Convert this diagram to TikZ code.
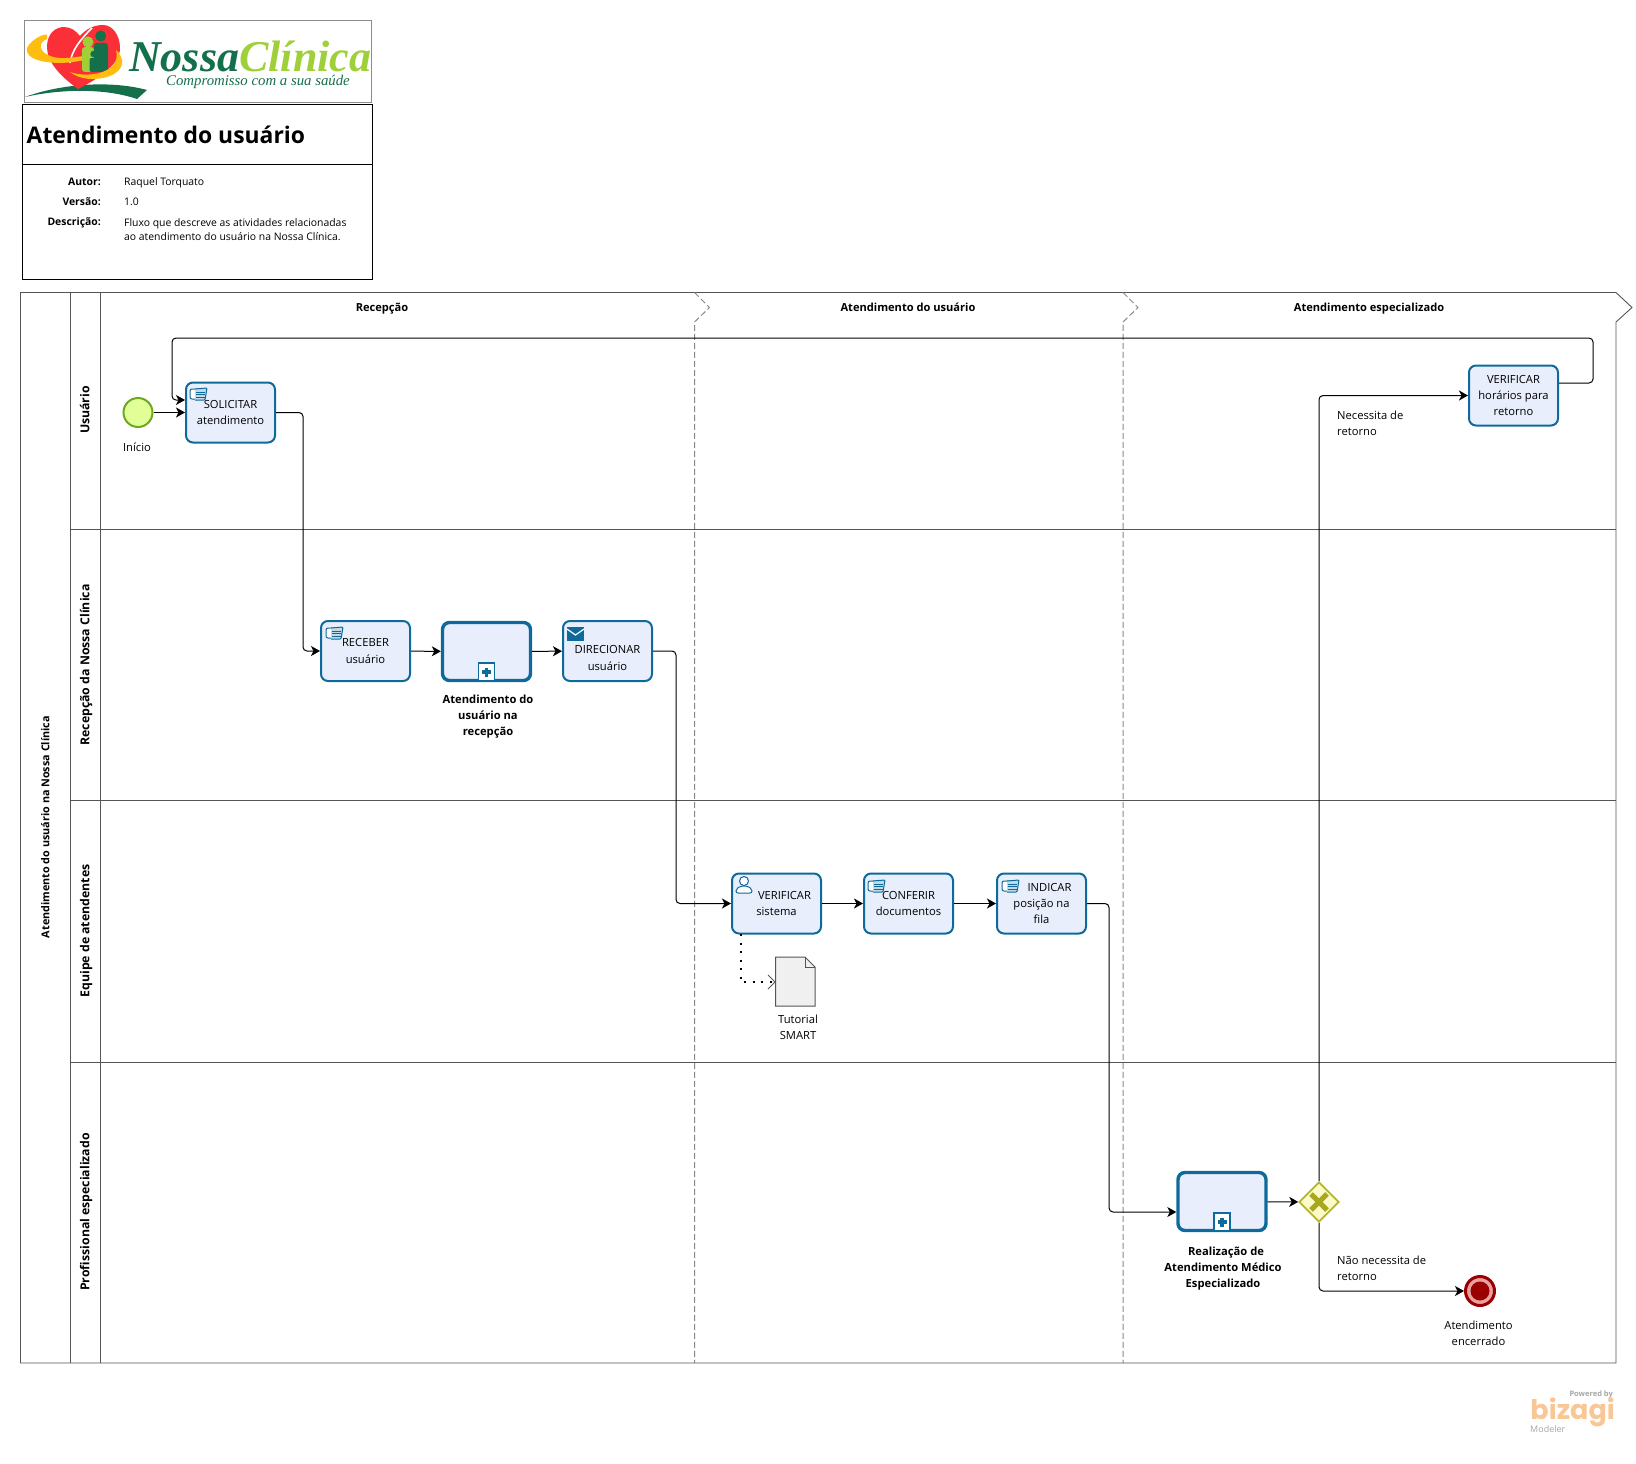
\documentclass[tikz,border=0pt]{standalone}
\usepackage{fontspec}
\setmainfont{Open Sans}
\newfontfamily\logofont{Liberation Serif}
\newfontfamily\bizfont{Poppins}
\usetikzlibrary{arrows.meta,shapes.geometric}

\definecolor{taskblue}{HTML}{0F6A9C}
\definecolor{taskfill}{HTML}{E9EEFC}
\definecolor{laneline}{HTML}{555555}
\definecolor{logogreen}{HTML}{14704A}
\definecolor{logolime}{HTML}{9FD03A}
\definecolor{logogold}{HTML}{FFBE0F}
\definecolor{logored}{HTML}{FA2F38}
\definecolor{startline}{HTML}{6FA81E}
\definecolor{startfill}{HTML}{E1FF96}
\definecolor{gateline}{HTML}{B4B42D}
\definecolor{gatefill}{HTML}{FBFBC8}
\definecolor{gatecross}{HTML}{A8A820}
\definecolor{endline}{HTML}{9B0000}
\definecolor{endfill}{HTML}{E8A0A0}
\definecolor{bizorange}{HTML}{F9C795}

\newcommand{\bodyfont}{\fontsize{11.2}{16.2}\selectfont}

\tikzstyle{lane} = [laneline,line width=0.9pt]
\tikzstyle{phase} = [laneline!70,line width=1pt,dashed,dash pattern=on 6pt off 3pt]
\tikzstyle{flow} = [black,line width=1pt,rounded corners=4pt,-{Stealth[length=9pt,width=10pt,inset=2.5pt]}]
\tikzstyle{assoc} = [black,line width=1.6pt,dash pattern=on 2pt off 6.5pt]
\tikzstyle{task} = [draw=taskblue,fill=taskfill,line width=2pt,rounded corners=7pt,minimum width=89pt,minimum height=60pt,inner sep=0pt,align=center,font=\bodyfont]
\tikzstyle{subtask} = [task,line width=3.4pt,minimum width=88pt,minimum height=58pt]
\tikzstyle{caption} = [align=center,inner sep=0pt,font=\bodyfont]
\tikzstyle{boldcaption} = [caption,font=\bodyfont\bfseries]
\tikzstyle{header} = [inner sep=0pt,text height=8.6pt,text depth=0pt,font=\fontsize{11.1}{14}\selectfont\bfseries]
\tikzstyle{lanehead} = [header,rotate=90,font=\fontsize{12.3}{14}\selectfont\bfseries]
\tikzstyle{meta} = [inner sep=0pt,text height=8pt,text depth=0pt,font=\fontsize{10.4}{14}\selectfont]
\tikzstyle{metakey} = [meta,anchor=east,font=\fontsize{10.4}{14}\selectfont\bfseries]

\tikzset{
  handicon/.pic={
    \draw [taskblue,fill=white,line width=1pt,rounded corners=2pt] (0,1) rectangle (14,11);
    \draw [taskblue,fill=taskblue!25,line width=1pt,rounded corners=1pt] (5,1) -- (17,0) -- (15,12) -- (5,12);
    \foreach \liney in {4,6.5,9} \draw [taskblue,line width=1pt] (6,\liney) -- (15,\liney);
  },
  usericon/.pic={
    \draw [taskblue,line width=1pt,rounded corners=2pt,fill=white] (-8,12) -- (-8,8) -- (-3,5) -- (3,5) -- (8,8) -- (8,12) -- cycle;
    \draw [taskblue,line width=1pt,fill=white] (0,0) circle (4.5);
  },
  mailicon/.pic={
    \fill [taskblue] (0,0) rectangle (17,14);
    \draw [white,line width=1.2pt] (0,2) -- (8.5,8) -- (17,2);
  },
  plusicon/.pic={
    \draw [taskblue,fill=white,line width=1.8pt] (-8,-9) rectangle (8,9);
    \draw [taskblue,line width=3.4pt] (-4.5,0) -- (4.5,0) (0,-4.5) -- (0,4.5);
  }
}

\begin{document}
\begin{tikzpicture}[x=1pt,y=-1pt]
\useasboundingbox (0,0) rectangle (1636,1464);

% Logo
\draw [black!45,line width=0.8pt] (24.3,20.5) rectangle (371.5,102.5);
\fill [logogreen] (25,97) .. controls (60,84) and (110,80) .. (147,90) -- (137,99) .. controls (105,88) and (60,89) .. (25,97);
\fill [logored] (78,89) .. controls (60,76) and (47,62) .. (47,47) .. controls (47,33) and (56,27) .. (64,27) .. controls (71,27) and (76,31) .. (80,36) .. controls (86,29) and (94,25) .. (103,25) .. controls (113,25) and (120,36) .. (120,48) .. controls (120,64) and (100,78) .. (78,89);
\draw [white,line width=1.6pt] (92,28) .. controls (80,40) and (72,50) .. (70,63);
\fill [logogold] (27,48) .. controls (32,38) and (46,33) .. (47,35) -- (47,39) .. controls (39,42) and (38,50) .. (48,55) .. controls (58,60) and (70,58) .. (84,56) -- (84,60) .. controls (60,66) and (24,63) .. (27,48);
\fill [logolime,rounded corners=3pt] (82,47) rectangle (94,72);
\fill [logolime] (88,42) circle (5.5);
\fill [logogreen,rounded corners=3pt] (94,43) rectangle (108,72);
\fill [logogreen] (100.7,36) circle (5.5);
\fill [logogreen,rounded corners=2pt] (89.5,58) rectangle (97.5,72);
\fill [logogreen] (93.5,54) circle (3.2);
\fill [logogold] (70,72) .. controls (90,79) and (122,72) .. (116,50) .. controls (125,58) and (125,70) .. (110,76) .. controls (96,81) and (80,80) .. (70,72);
\node (logotext) [anchor=base west,inner sep=0pt] at (129,71.5) {\logofont\fontsize{44}{44}\selectfont\bfseries\itshape\textcolor{logogreen}{Nossa}\textcolor{logolime}{Clínica}};
\node (logotag) [anchor=base west,inner sep=0pt,text=logogreen] at (166,85.5) {\logofont\fontsize{14.8}{17}\selectfont\itshape Compromisso com a sua saúde};

% Title block
\draw [black,line width=1pt] (22.5,104.5) rectangle (372.5,279.5);
\draw [black,line width=1pt] (22.5,164.5) -- (372.5,164.5);
\node (title) [anchor=west,inner sep=0pt,font=\fontsize{22.9}{26}\selectfont\bfseries] at (26.5,135) {Atendimento do usuário};
\node (autorkey) [metakey] at (101,181) {Autor:};
\node (versaokey) [metakey] at (101,201) {Versão:};
\node (descrkey) [metakey] at (101,221) {Descrição:};
\node (autorval) [meta,anchor=west] at (124,181) {Raquel Torquato};
\node (versaoval) [meta,anchor=west] at (124,201) {1.0};
\node (descrval) [inner sep=0pt,font=\fontsize{10.4}{14}\selectfont,anchor=north west,align=left] at (124,218) {Fluxo que descreve as atividades relacionadas\\ao atendimento do usuário na Nossa Clínica.};

% Pool and lanes
\draw [lane] (20.5,292.5) -- (1616,292.5) -- (1632,307.5) -- (1616,322) -- (1616,1363) -- (20.5,1363) -- cycle;
\draw [lane] (70,292.5) -- (70,1363);
\draw [lane] (100,292.5) -- (100,1363);
\draw [lane] (70,529) -- (1616,529);
\draw [lane] (70,800) -- (1616,800);
\draw [lane] (70,1062) -- (1616,1062);

% Phases
\draw [phase] (694.5,292.5) -- (709.5,307.5) -- (694.5,322) -- (694.5,1363);
\draw [phase] (1123,292.5) -- (1138,307.5) -- (1123,322) -- (1123,1363);
\node (phaseone) [header] at (382,307) {Recepção};
\node (phasetwo) [header] at (908,307) {Atendimento do usuário};
\node (phasethree) [header] at (1369,307) {Atendimento especializado};

% Lane titles
\node (poolname) [header,rotate=90,font=\fontsize{10.8}{14}\selectfont\bfseries] at (45,827) {Atendimento do usuário na Nossa Clínica};
\node (laneone) [lanehead] at (85,410) {Usuário};
\node (lanetwo) [lanehead] at (85,665) {Recepção da Nossa Clínica};
\node (lanethree) [lanehead] at (85,931) {Equipe de atendentes};
\node (lanefour) [lanehead] at (85,1212) {Profissional especializado};

% Usuario
\node (inicio) [circle,draw=startline,fill=startfill,line width=2pt,minimum size=29pt,inner sep=0pt] at (138,412.5) {};
\node (iniciotxt) [caption] at (137,447) {Início};
\node (solicitar) [task] at (230.5,412.5) {SOLICITAR\\atendimento};
\node (verhorarios) [task] at (1513.5,395.5) {VERIFICAR\\horários para\\retorno};
\node (necessita) [caption,anchor=west,align=left] at (1337,423) {Necessita de\\retorno};

% Recepcao
\node (receber) [task] at (365.5,651) {RECEBER\\usuário};
\node (recepcao) [subtask] at (486.5,651.5) {};
\node (recepcaotxt) [boldcaption] at (488,716.5) {Atendimento do\\usuário na\\recepção};
\node (direcionar) [task] at (607.5,651) {\rule{0pt}{22pt}DIRECIONAR\\usuário};

% Equipe de atendentes
\node (verificar) [task] at (776.5,903.5) {\hspace{16pt}VERIFICAR\\sistema};
\node (conferir) [task] at (908.5,903.5) {CONFERIR\\documentos};
\node (indicar) [task] at (1041.5,903.5) {\hspace{16pt}INDICAR\\posição na\\fila};
\node (tutorialtxt) [caption] at (798,1027) {Tutorial\\SMART};
\draw [laneline,line width=1pt,fill=black!6] (775.5,957) -- (805,957) -- (815,967) -- (815,1006) -- (775.5,1006) -- cycle;
\draw [laneline,line width=0.8pt] (805,957) -- (805,967) -- (815,967);
\coordinate (tutorial) at (775,982);
\coordinate (dotstart) at (741,934);

% Profissional
\node (realizacao) [subtask] at (1222,1201.5) {};
\node (realizacaotxt) [boldcaption] at (1223,1268.5) {\hspace{6pt}Realização de\\Atendimento Médico\\Especializado};
\node (gateway) [diamond,draw=gateline,fill=gatefill,line width=1.8pt,minimum size=40pt,inner sep=0pt] at (1319,1202) {};
\draw [gatecross,line width=5pt] (1311,1194) -- (1327,1210) (1311,1210) -- (1327,1194);
\node (naonecessita) [caption,anchor=west,align=left] at (1337,1268) {Não necessita de\\retorno};
\node (fim) [circle,draw=endline,fill=endfill,line width=3pt,minimum size=29pt,inner sep=0pt] at (1480,1291) {};
\fill [endline] (fim.center) circle (9.5);
\node (fimtxt) [caption] at (1478.5,1333) {Atendimento\\encerrado};

% Task markers
\pic at (190,388) {handicon};
\pic at (326,627) {handicon};
\pic at (868,880) {handicon};
\pic at (1002,880) {handicon};
\pic at (744,881) {usericon};
\pic at (567,627) {mailicon};
\pic at (486.5,672) {plusicon};
\pic at (1222,1222) {plusicon};

% Sequence flows
\coordinate (busone) at (303,412.5);
\coordinate (bustwo) at (676,651);
\coordinate (busthree) at (1109,903.5);
\coordinate (looptop) at (1593,338);
\coordinate (loopleft) at (172,338);
\draw [flow] (inicio) -- (solicitar);
\draw [flow] ([yshift=12.5pt]verhorarios.east) -| (looptop) -- (loopleft) |- ([yshift=12.5pt]solicitar.west);
\draw [flow] (solicitar.east) -- (busone) |- (receber.west);
\draw [flow] (receber) -- (recepcao);
\draw [flow] (recepcao) -- (direcionar);
\draw [flow] (direcionar.east) -- (bustwo) |- (verificar.west);
\draw [flow] (verificar) -- (conferir);
\draw [flow] (conferir) -- (indicar);
\draw [flow] (indicar.east) -- (busthree) |- ([yshift=-10.5pt]realizacao.west);
\draw [flow] (realizacao) -- (gateway);
\draw [flow] (gateway.north) |- (verhorarios.west);
\draw [flow] (gateway.south) |- (fim.west);

% Association
\draw [assoc] (dotstart) |- (tutorial);
\draw [laneline,line width=0.8pt] (768,975) -- (775,982) -- (768,989);

% Watermark
\node (powered) [anchor=east,inner sep=0pt,text=black!35,font=\fontsize{7.5}{9}\selectfont\bfseries] at (1613,1395) {Powered by};
\node (bizagi) [anchor=base east,inner sep=0pt,text=bizorange,font=\bizfont\bfseries\fontsize{27}{30}\selectfont] at (1615,1419) {bizagi};
\node (modeler) [anchor=west,inner sep=0pt,text=black!35,font=\fontsize{9}{10}\selectfont] at (1530,1429) {Modeler};

\end{tikzpicture}
\end{document}
